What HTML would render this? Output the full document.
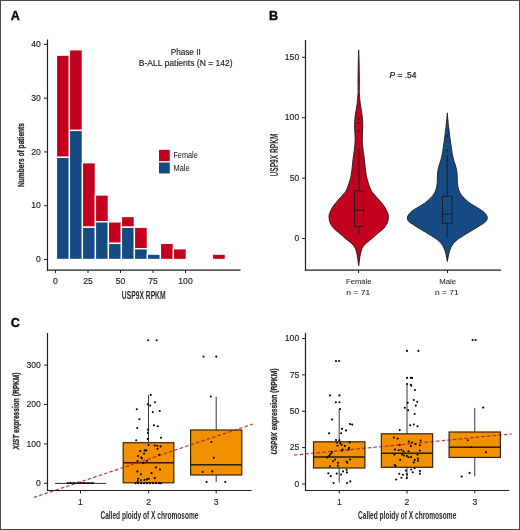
<!DOCTYPE html>
<html><head><meta charset="utf-8"><title>Figure</title>
<style>html,body{margin:0;padding:0;background:#fff;width:520px;height:530px;overflow:hidden}svg{display:block;will-change:transform}text{font-family:"Liberation Sans", sans-serif}</style>
</head><body>
<svg width="520" height="530" viewBox="0 0 520 530" font-family='"Liberation Sans", sans-serif'><rect x="0.5" y="0.5" width="519" height="529" fill="none" stroke="#4a4a4a" stroke-width="1"/>
<text x="10.80" y="19.70" font-size="12.6" text-anchor="start" fill="#000" font-weight="bold" font-style="normal" stroke="#000" stroke-width="0.35">A</text>
<rect x="56.40" y="55.14" width="13" height="102.18" fill="#c4001f" stroke="#fff" stroke-width="1.35"/>
<rect x="56.40" y="157.32" width="13" height="102.18" fill="#164a82" stroke="#fff" stroke-width="1.35"/>
<rect x="69.40" y="49.76" width="13" height="80.67" fill="#c4001f" stroke="#fff" stroke-width="1.35"/>
<rect x="69.40" y="130.43" width="13" height="129.07" fill="#164a82" stroke="#fff" stroke-width="1.35"/>
<rect x="82.40" y="162.70" width="13" height="64.54" fill="#c4001f" stroke="#fff" stroke-width="1.35"/>
<rect x="82.40" y="227.23" width="13" height="32.27" fill="#164a82" stroke="#fff" stroke-width="1.35"/>
<rect x="95.40" y="194.96" width="13" height="26.89" fill="#c4001f" stroke="#fff" stroke-width="1.35"/>
<rect x="95.40" y="221.85" width="13" height="37.65" fill="#164a82" stroke="#fff" stroke-width="1.35"/>
<rect x="108.40" y="221.85" width="13" height="21.51" fill="#c4001f" stroke="#fff" stroke-width="1.35"/>
<rect x="108.40" y="243.37" width="13" height="16.13" fill="#164a82" stroke="#fff" stroke-width="1.35"/>
<rect x="121.40" y="216.48" width="13" height="10.76" fill="#c4001f" stroke="#fff" stroke-width="1.35"/>
<rect x="121.40" y="227.23" width="13" height="32.27" fill="#164a82" stroke="#fff" stroke-width="1.35"/>
<rect x="134.40" y="227.23" width="13" height="21.51" fill="#c4001f" stroke="#fff" stroke-width="1.35"/>
<rect x="134.40" y="248.74" width="13" height="10.76" fill="#164a82" stroke="#fff" stroke-width="1.35"/>
<rect x="147.40" y="254.12" width="13" height="5.38" fill="#164a82" stroke="#fff" stroke-width="1.35"/>
<rect x="160.40" y="243.37" width="13" height="16.13" fill="#c4001f" stroke="#fff" stroke-width="1.35"/>
<rect x="173.40" y="248.74" width="13" height="10.76" fill="#c4001f" stroke="#fff" stroke-width="1.35"/>
<rect x="212.40" y="254.12" width="13" height="5.38" fill="#c4001f" stroke="#fff" stroke-width="1.35"/>
<line x1="47.50" y1="39.50" x2="47.50" y2="270.80" stroke="#1e1e1e" stroke-width="1.2" />
<line x1="47.00" y1="270.20" x2="240.50" y2="270.20" stroke="#1e1e1e" stroke-width="1.2" />
<line x1="44.00" y1="259.50" x2="47.50" y2="259.50" stroke="#1e1e1e" stroke-width="1" />
<text x="40.80" y="262.25" font-size="8.6" text-anchor="end" fill="#222" font-weight="normal" font-style="normal" stroke="#222" stroke-width="0.15">0</text>
<line x1="44.00" y1="205.72" x2="47.50" y2="205.72" stroke="#1e1e1e" stroke-width="1" />
<text x="40.80" y="208.47" font-size="8.6" text-anchor="end" fill="#222" font-weight="normal" font-style="normal" stroke="#222" stroke-width="0.15">10</text>
<line x1="44.00" y1="151.94" x2="47.50" y2="151.94" stroke="#1e1e1e" stroke-width="1" />
<text x="40.80" y="154.69" font-size="8.6" text-anchor="end" fill="#222" font-weight="normal" font-style="normal" stroke="#222" stroke-width="0.15">20</text>
<line x1="44.00" y1="98.16" x2="47.50" y2="98.16" stroke="#1e1e1e" stroke-width="1" />
<text x="40.80" y="100.91" font-size="8.6" text-anchor="end" fill="#222" font-weight="normal" font-style="normal" stroke="#222" stroke-width="0.15">30</text>
<line x1="44.00" y1="44.38" x2="47.50" y2="44.38" stroke="#1e1e1e" stroke-width="1" />
<text x="40.80" y="47.13" font-size="8.6" text-anchor="end" fill="#222" font-weight="normal" font-style="normal" stroke="#222" stroke-width="0.15">40</text>
<line x1="55.50" y1="270.00" x2="55.50" y2="273.00" stroke="#1e1e1e" stroke-width="1" />
<text x="55.50" y="284.00" font-size="8.6" text-anchor="middle" fill="#222" font-weight="normal" font-style="normal" stroke="#222" stroke-width="0.15">0</text>
<line x1="88.00" y1="270.00" x2="88.00" y2="273.00" stroke="#1e1e1e" stroke-width="1" />
<text x="88.00" y="284.00" font-size="8.6" text-anchor="middle" fill="#222" font-weight="normal" font-style="normal" stroke="#222" stroke-width="0.15">25</text>
<line x1="120.50" y1="270.00" x2="120.50" y2="273.00" stroke="#1e1e1e" stroke-width="1" />
<text x="120.50" y="284.00" font-size="8.6" text-anchor="middle" fill="#222" font-weight="normal" font-style="normal" stroke="#222" stroke-width="0.15">50</text>
<line x1="153.00" y1="270.00" x2="153.00" y2="273.00" stroke="#1e1e1e" stroke-width="1" />
<text x="153.00" y="284.00" font-size="8.6" text-anchor="middle" fill="#222" font-weight="normal" font-style="normal" stroke="#222" stroke-width="0.15">75</text>
<line x1="185.50" y1="270.00" x2="185.50" y2="273.00" stroke="#1e1e1e" stroke-width="1" />
<text x="185.50" y="284.00" font-size="8.6" text-anchor="middle" fill="#222" font-weight="normal" font-style="normal" stroke="#222" stroke-width="0.15">100</text>
<text x="185.70" y="54.90" font-size="8.2" text-anchor="middle" fill="#222" font-weight="normal" font-style="normal" stroke="#222" stroke-width="0.15">Phase II</text>
<text x="185.70" y="65.80" font-size="8.2" text-anchor="middle" fill="#222" font-weight="normal" font-style="normal" textLength="94" lengthAdjust="spacingAndGlyphs" stroke="#222" stroke-width="0.15">B-ALL patients (N = 142)</text>
<rect x="159" y="149.8" width="10.8" height="11.3" fill="#c4001f"/>
<rect x="159" y="162.5" width="10.8" height="11" fill="#164a82"/>
<text x="173.40" y="158.30" font-size="8.2" text-anchor="start" fill="#222" font-weight="normal" font-style="normal" textLength="24.3" lengthAdjust="spacingAndGlyphs" stroke="#222" stroke-width="0.05">Female</text>
<text x="173.50" y="170.80" font-size="8.2" text-anchor="start" fill="#222" font-weight="normal" font-style="normal" textLength="16" lengthAdjust="spacingAndGlyphs" stroke="#222" stroke-width="0.05">Male</text>
<text x="143.70" y="298.80" font-size="10.2" text-anchor="middle" fill="#2a2a2a" font-weight="bold" font-style="normal" textLength="43.8" lengthAdjust="spacingAndGlyphs" >USP9X RPKM</text>
<g transform="translate(23.60,155.00) rotate(-90)"><text x="0" y="0" font-size="9.6" font-weight="bold" text-anchor="middle" fill="#2a2a2a" stroke="#2a2a2a" stroke-width="0.3" textLength="64" lengthAdjust="spacingAndGlyphs">Numbers of patients</text></g>
<text x="268.90" y="19.80" font-size="12.6" text-anchor="start" fill="#000" font-weight="bold" font-style="normal" stroke="#000" stroke-width="0.35">B</text>
<line x1="305.50" y1="40.00" x2="305.50" y2="270.80" stroke="#1e1e1e" stroke-width="1.2" />
<line x1="304.90" y1="270.20" x2="501.00" y2="270.20" stroke="#1e1e1e" stroke-width="1.2" />
<line x1="302.00" y1="238.60" x2="305.50" y2="238.60" stroke="#1e1e1e" stroke-width="1" />
<text x="299.20" y="241.35" font-size="8.6" text-anchor="end" fill="#222" font-weight="normal" font-style="normal" stroke="#222" stroke-width="0.15">0</text>
<line x1="302.00" y1="178.16" x2="305.50" y2="178.16" stroke="#1e1e1e" stroke-width="1" />
<text x="299.20" y="180.91" font-size="8.6" text-anchor="end" fill="#222" font-weight="normal" font-style="normal" stroke="#222" stroke-width="0.15">50</text>
<line x1="302.00" y1="117.73" x2="305.50" y2="117.73" stroke="#1e1e1e" stroke-width="1" />
<text x="299.20" y="120.48" font-size="8.6" text-anchor="end" fill="#222" font-weight="normal" font-style="normal" stroke="#222" stroke-width="0.15">100</text>
<line x1="302.00" y1="57.29" x2="305.50" y2="57.29" stroke="#1e1e1e" stroke-width="1" />
<text x="299.20" y="60.04" font-size="8.6" text-anchor="end" fill="#222" font-weight="normal" font-style="normal" stroke="#222" stroke-width="0.15">150</text>
<line x1="358.50" y1="270.00" x2="358.50" y2="273.00" stroke="#1e1e1e" stroke-width="1" />
<line x1="447.50" y1="270.00" x2="447.50" y2="273.00" stroke="#1e1e1e" stroke-width="1" />
<text x="358.80" y="284.20" font-size="7.9" text-anchor="middle" fill="#222" font-weight="normal" font-style="normal" textLength="25.4" lengthAdjust="spacingAndGlyphs" stroke="#222" stroke-width="0.05">Female</text>
<text x="358.20" y="294.70" font-size="7.9" text-anchor="middle" fill="#222" font-weight="normal" font-style="normal" textLength="24" lengthAdjust="spacingAndGlyphs" stroke="#222" stroke-width="0.05">n = 71</text>
<text x="447.60" y="284.20" font-size="7.9" text-anchor="middle" fill="#222" font-weight="normal" font-style="normal" textLength="16.8" lengthAdjust="spacingAndGlyphs" stroke="#222" stroke-width="0.05">Male</text>
<text x="446.90" y="294.70" font-size="7.9" text-anchor="middle" fill="#222" font-weight="normal" font-style="normal" textLength="24" lengthAdjust="spacingAndGlyphs" stroke="#222" stroke-width="0.05">n = 71</text>
<g transform="translate(278.4,155) rotate(-90)"><text x="0" y="0" font-size="10.2" font-weight="bold" text-anchor="middle" fill="#2a2a2a" textLength="43" lengthAdjust="spacingAndGlyphs">USP9X RPKM</text></g>
<text x="389.6" y="77.8" font-size="8.4" fill="#111" stroke="#111" stroke-width="0.2"><tspan font-style="italic">P</tspan> = .54</text>
<path d="M358.70,50.20 C358.76,51.83 358.97,56.70 359.05,60.00 C359.13,63.30 359.14,66.50 359.20,70.00 C359.26,73.50 359.38,77.67 359.40,81.00 C359.42,84.33 359.28,87.67 359.30,90.00 C359.32,92.33 359.37,92.93 359.50,95.00 C359.63,97.07 359.82,99.95 360.10,102.40 C360.38,104.85 360.83,107.27 361.20,109.70 C361.57,112.13 362.03,114.33 362.30,117.00 C362.57,119.67 362.78,122.82 362.80,125.70 C362.82,128.58 362.48,131.65 362.40,134.30 C362.32,136.95 362.18,138.95 362.30,141.60 C362.42,144.25 362.77,147.33 363.10,150.20 C363.43,153.07 363.98,156.25 364.30,158.80 C364.62,161.35 364.68,162.80 365.00,165.50 C365.32,168.20 365.70,172.25 366.20,175.00 C366.70,177.75 367.22,179.50 368.00,182.00 C368.78,184.50 369.78,187.83 370.90,190.00 C372.02,192.17 373.18,193.17 374.70,195.00 C376.22,196.83 378.33,199.00 380.00,201.00 C381.67,203.00 383.38,204.90 384.70,207.00 C386.02,209.10 387.30,211.77 387.90,213.60 C388.50,215.43 388.42,216.43 388.30,218.00 C388.18,219.57 387.92,221.33 387.20,223.00 C386.48,224.67 385.62,226.23 384.00,228.00 C382.38,229.77 379.22,232.10 377.50,233.60 C375.78,235.10 375.03,235.87 373.70,237.00 C372.37,238.13 370.90,239.23 369.50,240.40 C368.10,241.57 366.40,242.90 365.30,244.00 C364.20,245.10 363.53,246.00 362.90,247.00 C362.27,248.00 361.92,248.83 361.50,250.00 C361.08,251.17 360.70,252.67 360.40,254.00 C360.10,255.33 359.90,256.67 359.70,258.00 C359.50,259.33 359.37,260.70 359.20,262.00 C359.03,263.30 358.78,265.17 358.70,265.80 L358.70,265.80 C358.62,265.17 358.37,263.30 358.20,262.00 C358.03,260.70 357.90,259.33 357.70,258.00 C357.50,256.67 357.30,255.33 357.00,254.00 C356.70,252.67 356.32,251.17 355.90,250.00 C355.48,248.83 355.13,248.00 354.50,247.00 C353.87,246.00 353.20,245.10 352.10,244.00 C351.00,242.90 349.30,241.57 347.90,240.40 C346.50,239.23 345.03,238.13 343.70,237.00 C342.37,235.87 341.62,235.10 339.90,233.60 C338.18,232.10 335.02,229.77 333.40,228.00 C331.78,226.23 330.92,224.67 330.20,223.00 C329.48,221.33 329.22,219.57 329.10,218.00 C328.98,216.43 328.90,215.43 329.50,213.60 C330.10,211.77 331.38,209.10 332.70,207.00 C334.02,204.90 335.73,203.00 337.40,201.00 C339.07,199.00 341.18,196.83 342.70,195.00 C344.22,193.17 345.38,192.17 346.50,190.00 C347.62,187.83 348.62,184.50 349.40,182.00 C350.18,179.50 350.70,177.75 351.20,175.00 C351.70,172.25 352.08,168.20 352.40,165.50 C352.72,162.80 352.78,161.35 353.10,158.80 C353.42,156.25 353.97,153.07 354.30,150.20 C354.63,147.33 354.98,144.25 355.10,141.60 C355.22,138.95 355.08,136.95 355.00,134.30 C354.92,131.65 354.58,128.58 354.60,125.70 C354.62,122.82 354.83,119.67 355.10,117.00 C355.37,114.33 355.83,112.13 356.20,109.70 C356.57,107.27 357.02,104.85 357.30,102.40 C357.58,99.95 357.77,97.07 357.90,95.00 C358.03,92.93 358.08,92.33 358.10,90.00 C358.12,87.67 357.98,84.33 358.00,81.00 C358.02,77.67 358.14,73.50 358.20,70.00 C358.26,66.50 358.27,63.30 358.35,60.00 C358.43,56.70 358.64,51.83 358.70,50.20 Z" fill="#c4001f" stroke="#1a1a1a" stroke-width="0.9" stroke-linejoin="round"/>
<path d="M447.30,112.90 C447.40,114.08 447.67,117.55 447.90,120.00 C448.13,122.45 448.33,124.43 448.70,127.60 C449.07,130.77 449.60,135.27 450.10,139.00 C450.60,142.73 451.30,147.33 451.70,150.00 C452.10,152.67 452.13,153.20 452.50,155.00 C452.87,156.80 453.35,158.88 453.90,160.80 C454.45,162.72 455.30,164.58 455.80,166.50 C456.30,168.42 456.67,170.38 456.90,172.30 C457.13,174.22 457.10,176.08 457.20,178.00 C457.30,179.92 457.27,181.87 457.50,183.80 C457.73,185.73 457.90,187.67 458.60,189.60 C459.30,191.53 460.22,193.47 461.70,195.40 C463.18,197.33 465.65,199.60 467.50,201.20 C469.35,202.80 470.42,203.45 472.80,205.00 C475.18,206.55 479.62,208.92 481.80,210.50 C483.98,212.08 484.98,213.25 485.90,214.50 C486.82,215.75 487.32,216.83 487.30,218.00 C487.28,219.17 486.88,220.33 485.80,221.50 C484.72,222.67 482.65,223.78 480.80,225.00 C478.95,226.22 477.23,227.25 474.70,228.80 C472.17,230.35 468.50,232.48 465.60,234.30 C462.70,236.12 459.55,237.88 457.30,239.70 C455.05,241.52 453.38,243.37 452.10,245.20 C450.82,247.03 450.23,248.90 449.60,250.70 C448.97,252.50 448.68,254.20 448.30,256.00 C447.92,257.80 447.47,260.58 447.30,261.50 L447.30,261.50 C447.13,260.58 446.68,257.80 446.30,256.00 C445.92,254.20 445.63,252.50 445.00,250.70 C444.37,248.90 443.78,247.03 442.50,245.20 C441.22,243.37 439.55,241.52 437.30,239.70 C435.05,237.88 431.90,236.12 429.00,234.30 C426.10,232.48 422.43,230.35 419.90,228.80 C417.37,227.25 415.65,226.22 413.80,225.00 C411.95,223.78 409.88,222.67 408.80,221.50 C407.72,220.33 407.32,219.17 407.30,218.00 C407.28,216.83 407.78,215.75 408.70,214.50 C409.62,213.25 410.62,212.08 412.80,210.50 C414.98,208.92 419.42,206.55 421.80,205.00 C424.18,203.45 425.25,202.80 427.10,201.20 C428.95,199.60 431.42,197.33 432.90,195.40 C434.38,193.47 435.30,191.53 436.00,189.60 C436.70,187.67 436.87,185.73 437.10,183.80 C437.33,181.87 437.30,179.92 437.40,178.00 C437.50,176.08 437.47,174.22 437.70,172.30 C437.93,170.38 438.30,168.42 438.80,166.50 C439.30,164.58 440.15,162.72 440.70,160.80 C441.25,158.88 441.73,156.80 442.10,155.00 C442.47,153.20 442.50,152.67 442.90,150.00 C443.30,147.33 444.00,142.73 444.50,139.00 C445.00,135.27 445.53,130.77 445.90,127.60 C446.27,124.43 446.47,122.45 446.70,120.00 C446.93,117.55 447.20,114.08 447.30,112.90 Z" fill="#164a82" stroke="#1a1a1a" stroke-width="0.9" stroke-linejoin="round"/>
<line x1="358.90" y1="148.50" x2="358.90" y2="190.80" stroke="#1a1a1a" stroke-width="0.9" />
<line x1="358.90" y1="226.60" x2="358.90" y2="234.50" stroke="#1a1a1a" stroke-width="0.9" />
<rect x="354.40" y="190.80" width="9.00" height="35.80" fill="none" stroke="#1a1a1a" stroke-width="0.9"/>
<line x1="354.40" y1="210.40" x2="363.40" y2="210.40" stroke="#1a1a1a" stroke-width="0.9" />
<circle cx="358.7" cy="118.9" r="0.9" fill="#300"/>
<circle cx="358.7" cy="123.2" r="0.9" fill="#300"/>
<circle cx="358.7" cy="130.6" r="0.9" fill="#300"/>
<line x1="447.20" y1="155.00" x2="447.20" y2="196.30" stroke="#1a1a1a" stroke-width="0.9" />
<line x1="447.20" y1="223.30" x2="447.20" y2="237.50" stroke="#1a1a1a" stroke-width="0.9" />
<rect x="442.40" y="196.30" width="9.60" height="27.00" fill="none" stroke="#1a1a1a" stroke-width="0.9"/>
<line x1="442.40" y1="214.20" x2="452.00" y2="214.20" stroke="#1a1a1a" stroke-width="0.9" />
<circle cx="447.4" cy="136.1" r="0.85" fill="#001"/>
<circle cx="447.4" cy="150.3" r="0.85" fill="#001"/>
<text x="10.70" y="326.50" font-size="12.6" text-anchor="start" fill="#000" font-weight="bold" font-style="normal" stroke="#000" stroke-width="0.35">C</text>
<line x1="47.50" y1="333.00" x2="47.50" y2="491.10" stroke="#1e1e1e" stroke-width="1.2" />
<line x1="46.90" y1="490.50" x2="251.60" y2="490.50" stroke="#1e1e1e" stroke-width="1.2" />
<line x1="44.00" y1="483.30" x2="47.50" y2="483.30" stroke="#1e1e1e" stroke-width="1" />
<text x="40.80" y="486.05" font-size="8.6" text-anchor="end" fill="#222" font-weight="normal" font-style="normal" stroke="#222" stroke-width="0.15">0</text>
<line x1="44.00" y1="443.90" x2="47.50" y2="443.90" stroke="#1e1e1e" stroke-width="1" />
<text x="40.80" y="446.65" font-size="8.6" text-anchor="end" fill="#222" font-weight="normal" font-style="normal" stroke="#222" stroke-width="0.15">100</text>
<line x1="44.00" y1="404.50" x2="47.50" y2="404.50" stroke="#1e1e1e" stroke-width="1" />
<text x="40.80" y="407.25" font-size="8.6" text-anchor="end" fill="#222" font-weight="normal" font-style="normal" stroke="#222" stroke-width="0.15">200</text>
<line x1="44.00" y1="365.10" x2="47.50" y2="365.10" stroke="#1e1e1e" stroke-width="1" />
<text x="40.80" y="367.85" font-size="8.6" text-anchor="end" fill="#222" font-weight="normal" font-style="normal" stroke="#222" stroke-width="0.15">300</text>
<line x1="80.50" y1="490.50" x2="80.50" y2="493.50" stroke="#1e1e1e" stroke-width="1" />
<text x="80.50" y="505.00" font-size="8.6" text-anchor="middle" fill="#222" font-weight="normal" font-style="normal" stroke="#222" stroke-width="0.15">1</text>
<line x1="148.60" y1="490.50" x2="148.60" y2="493.50" stroke="#1e1e1e" stroke-width="1" />
<text x="148.60" y="505.00" font-size="8.6" text-anchor="middle" fill="#222" font-weight="normal" font-style="normal" stroke="#222" stroke-width="0.15">2</text>
<line x1="216.20" y1="490.50" x2="216.20" y2="493.50" stroke="#1e1e1e" stroke-width="1" />
<text x="216.20" y="505.00" font-size="8.6" text-anchor="middle" fill="#222" font-weight="normal" font-style="normal" stroke="#222" stroke-width="0.15">3</text>
<text x="100.40" y="518.90" font-size="10.2" text-anchor="start" fill="#2a2a2a" font-weight="bold" font-style="normal" textLength="98.1" lengthAdjust="spacingAndGlyphs" >Called ploidy of X chromosome</text>
<g transform="translate(19,411) rotate(-90)"><text x="0" y="0" font-size="9.8" font-weight="bold" text-anchor="middle" fill="#2a2a2a" stroke="#2a2a2a" stroke-width="0.3" textLength="77" lengthAdjust="spacingAndGlyphs"><tspan font-style="italic">XIST</tspan> expression (RPKM)</text></g>
<line x1="55.00" y1="483.40" x2="106.25" y2="483.40" stroke="#1a1a1a" stroke-width="0.9" />
<line x1="68.00" y1="483.20" x2="94.40" y2="483.20" stroke="#1a1a1a" stroke-width="1.5" />
<circle cx="67.5" cy="483.0" r="0.9" fill="#000"/>
<circle cx="70.5" cy="482.6" r="0.9" fill="#000"/>
<circle cx="74.0" cy="482.8" r="0.9" fill="#000"/>
<circle cx="78.0" cy="482.4" r="0.9" fill="#000"/>
<circle cx="81.0" cy="482.6" r="0.9" fill="#000"/>
<circle cx="84.0" cy="483.0" r="0.9" fill="#000"/>
<circle cx="88.0" cy="483.1" r="0.9" fill="#000"/>
<circle cx="92.0" cy="483.2" r="0.9" fill="#000"/>
<line x1="148.50" y1="394.90" x2="148.50" y2="442.70" stroke="#383838" stroke-width="1.0" />
<line x1="148.50" y1="482.80" x2="148.50" y2="483.30" stroke="#383838" stroke-width="1.0" />
<rect x="123.15" y="442.70" width="50.70" height="40.10" fill="#f29100" stroke="#2e1d05" stroke-width="1.15"/>
<line x1="123.15" y1="462.70" x2="173.85" y2="462.70" stroke="#2e1d05" stroke-width="1.4949999999999999" />
<line x1="216.20" y1="396.80" x2="216.20" y2="430.00" stroke="#383838" stroke-width="1.0" />
<line x1="216.20" y1="475.00" x2="216.20" y2="482.00" stroke="#383838" stroke-width="1.0" />
<rect x="190.60" y="430.00" width="51.20" height="45.00" fill="#f29100" stroke="#2e1d05" stroke-width="1.15"/>
<line x1="190.60" y1="464.70" x2="241.80" y2="464.70" stroke="#2e1d05" stroke-width="1.4949999999999999" />
<line x1="33.75" y1="497.5" x2="253" y2="424" stroke="#a0102c" stroke-width="1.2" stroke-dasharray="3.6,2.1" stroke-opacity="0.8"/>
<circle cx="148.2" cy="340.2" r="1.05" fill="#000"/>
<circle cx="156.7" cy="340.2" r="1.05" fill="#000"/>
<circle cx="150.8" cy="394.9" r="1.05" fill="#000"/>
<circle cx="155.0" cy="402.2" r="1.05" fill="#000"/>
<circle cx="147.7" cy="404.2" r="1.05" fill="#000"/>
<circle cx="150.2" cy="405.6" r="1.05" fill="#000"/>
<circle cx="136.8" cy="409.3" r="1.05" fill="#000"/>
<circle cx="152.8" cy="412.0" r="1.05" fill="#000"/>
<circle cx="159.8" cy="411.0" r="1.05" fill="#000"/>
<circle cx="139.4" cy="419.2" r="1.05" fill="#000"/>
<circle cx="137.2" cy="428.0" r="1.05" fill="#000"/>
<circle cx="154.0" cy="425.2" r="1.05" fill="#000"/>
<circle cx="157.8" cy="426.3" r="1.05" fill="#000"/>
<circle cx="147.9" cy="429.6" r="1.05" fill="#000"/>
<circle cx="147.9" cy="432.7" r="1.05" fill="#000"/>
<circle cx="147.6" cy="439.0" r="1.05" fill="#000"/>
<circle cx="136.2" cy="440.2" r="1.05" fill="#000"/>
<circle cx="161.0" cy="437.7" r="1.05" fill="#000"/>
<circle cx="148.6" cy="445.0" r="1.05" fill="#000"/>
<circle cx="154.7" cy="445.5" r="1.05" fill="#000"/>
<circle cx="157.2" cy="445.7" r="1.05" fill="#000"/>
<circle cx="160.6" cy="446.4" r="1.05" fill="#000"/>
<circle cx="157.5" cy="448.7" r="1.05" fill="#000"/>
<circle cx="140.2" cy="451.1" r="1.05" fill="#000"/>
<circle cx="144.7" cy="450.4" r="1.05" fill="#000"/>
<circle cx="146.2" cy="450.4" r="1.05" fill="#000"/>
<circle cx="144.0" cy="453.5" r="1.05" fill="#000"/>
<circle cx="138.0" cy="456.0" r="1.05" fill="#000"/>
<circle cx="141.2" cy="457.5" r="1.05" fill="#000"/>
<circle cx="159.2" cy="454.7" r="1.05" fill="#000"/>
<circle cx="141.9" cy="458.2" r="1.05" fill="#000"/>
<circle cx="137.4" cy="461.0" r="1.05" fill="#000"/>
<circle cx="146.9" cy="461.0" r="1.05" fill="#000"/>
<circle cx="143.3" cy="463.2" r="1.05" fill="#000"/>
<circle cx="156.0" cy="467.4" r="1.05" fill="#000"/>
<circle cx="160.0" cy="469.5" r="1.05" fill="#000"/>
<circle cx="137.4" cy="471.4" r="1.05" fill="#000"/>
<circle cx="140.9" cy="474.2" r="1.05" fill="#000"/>
<circle cx="151.5" cy="473.1" r="1.05" fill="#000"/>
<circle cx="154.7" cy="478.0" r="1.05" fill="#000"/>
<circle cx="138.1" cy="478.7" r="1.05" fill="#000"/>
<circle cx="140.8" cy="480.2" r="1.05" fill="#000"/>
<circle cx="144.5" cy="479.9" r="1.05" fill="#000"/>
<circle cx="146.9" cy="479.4" r="1.05" fill="#000"/>
<circle cx="148.7" cy="478.7" r="1.05" fill="#000"/>
<circle cx="137.7" cy="480.9" r="1.05" fill="#000"/>
<circle cx="135.5" cy="483.3" r="1.05" fill="#000"/>
<circle cx="138.0" cy="483.3" r="1.05" fill="#000"/>
<circle cx="141.0" cy="483.3" r="1.05" fill="#000"/>
<circle cx="144.0" cy="483.3" r="1.05" fill="#000"/>
<circle cx="147.0" cy="483.3" r="1.05" fill="#000"/>
<circle cx="150.0" cy="483.3" r="1.05" fill="#000"/>
<circle cx="153.0" cy="483.3" r="1.05" fill="#000"/>
<circle cx="156.0" cy="483.3" r="1.05" fill="#000"/>
<circle cx="159.0" cy="483.3" r="1.05" fill="#000"/>
<circle cx="161.0" cy="483.3" r="1.05" fill="#000"/>
<circle cx="203.5" cy="356.6" r="1.05" fill="#000"/>
<circle cx="216.2" cy="356.6" r="1.05" fill="#000"/>
<circle cx="210.8" cy="396.5" r="1.05" fill="#000"/>
<circle cx="211.4" cy="442.0" r="1.05" fill="#000"/>
<circle cx="213.8" cy="457.8" r="1.05" fill="#000"/>
<circle cx="202.7" cy="472.0" r="1.05" fill="#000"/>
<circle cx="212.3" cy="471.4" r="1.05" fill="#000"/>
<circle cx="206.6" cy="482.0" r="1.05" fill="#000"/>
<circle cx="225.3" cy="482.0" r="1.05" fill="#000"/>
<line x1="305.50" y1="333.00" x2="305.50" y2="491.10" stroke="#1e1e1e" stroke-width="1.2" />
<line x1="304.90" y1="490.50" x2="509.30" y2="490.50" stroke="#1e1e1e" stroke-width="1.2" />
<line x1="302.00" y1="484.00" x2="305.50" y2="484.00" stroke="#1e1e1e" stroke-width="1" />
<text x="299.20" y="486.75" font-size="8.6" text-anchor="end" fill="#222" font-weight="normal" font-style="normal" stroke="#222" stroke-width="0.15">0</text>
<line x1="302.00" y1="447.62" x2="305.50" y2="447.62" stroke="#1e1e1e" stroke-width="1" />
<text x="299.20" y="450.38" font-size="8.6" text-anchor="end" fill="#222" font-weight="normal" font-style="normal" stroke="#222" stroke-width="0.15">25</text>
<line x1="302.00" y1="411.25" x2="305.50" y2="411.25" stroke="#1e1e1e" stroke-width="1" />
<text x="299.20" y="414.00" font-size="8.6" text-anchor="end" fill="#222" font-weight="normal" font-style="normal" stroke="#222" stroke-width="0.15">50</text>
<line x1="302.00" y1="374.88" x2="305.50" y2="374.88" stroke="#1e1e1e" stroke-width="1" />
<text x="299.20" y="377.62" font-size="8.6" text-anchor="end" fill="#222" font-weight="normal" font-style="normal" stroke="#222" stroke-width="0.15">75</text>
<line x1="302.00" y1="338.50" x2="305.50" y2="338.50" stroke="#1e1e1e" stroke-width="1" />
<text x="299.20" y="341.25" font-size="8.6" text-anchor="end" fill="#222" font-weight="normal" font-style="normal" stroke="#222" stroke-width="0.15">100</text>
<line x1="339.30" y1="490.50" x2="339.30" y2="493.50" stroke="#1e1e1e" stroke-width="1" />
<text x="339.30" y="505.00" font-size="8.6" text-anchor="middle" fill="#222" font-weight="normal" font-style="normal" stroke="#222" stroke-width="0.15">1</text>
<line x1="407.00" y1="490.50" x2="407.00" y2="493.50" stroke="#1e1e1e" stroke-width="1" />
<text x="407.00" y="505.00" font-size="8.6" text-anchor="middle" fill="#222" font-weight="normal" font-style="normal" stroke="#222" stroke-width="0.15">2</text>
<line x1="474.80" y1="490.50" x2="474.80" y2="493.50" stroke="#1e1e1e" stroke-width="1" />
<text x="474.80" y="505.00" font-size="8.6" text-anchor="middle" fill="#222" font-weight="normal" font-style="normal" stroke="#222" stroke-width="0.15">3</text>
<text x="358.00" y="518.90" font-size="10.2" text-anchor="start" fill="#2a2a2a" font-weight="bold" font-style="normal" textLength="98.3" lengthAdjust="spacingAndGlyphs" >Called ploidy of X chromosome</text>
<g transform="translate(277.2,411.4) rotate(-90)"><text x="0" y="0" font-size="9.8" font-weight="bold" text-anchor="middle" fill="#2a2a2a" stroke="#2a2a2a" stroke-width="0.3" textLength="86" lengthAdjust="spacingAndGlyphs"><tspan font-style="italic">USP9X</tspan> expression (RPKM)</text></g>
<line x1="339.20" y1="409.00" x2="339.20" y2="441.80" stroke="#383838" stroke-width="1.0" />
<line x1="339.20" y1="468.00" x2="339.20" y2="482.60" stroke="#383838" stroke-width="1.0" />
<rect x="313.50" y="441.80" width="51.40" height="26.20" fill="#f29100" stroke="#2e1d05" stroke-width="1.15"/>
<line x1="313.50" y1="456.90" x2="364.90" y2="456.90" stroke="#2e1d05" stroke-width="1.4949999999999999" />
<line x1="407.00" y1="384.00" x2="407.00" y2="433.80" stroke="#383838" stroke-width="1.0" />
<line x1="407.00" y1="467.30" x2="407.00" y2="478.50" stroke="#383838" stroke-width="1.0" />
<rect x="381.35" y="433.80" width="51.30" height="33.50" fill="#f29100" stroke="#2e1d05" stroke-width="1.15"/>
<line x1="381.35" y1="453.30" x2="432.65" y2="453.30" stroke="#2e1d05" stroke-width="1.4949999999999999" />
<line x1="474.75" y1="407.90" x2="474.75" y2="432.00" stroke="#383838" stroke-width="1.0" />
<line x1="474.75" y1="457.40" x2="474.75" y2="476.40" stroke="#383838" stroke-width="1.0" />
<rect x="449.10" y="432.00" width="51.30" height="25.40" fill="#f29100" stroke="#2e1d05" stroke-width="1.15"/>
<line x1="449.10" y1="447.20" x2="500.40" y2="447.20" stroke="#2e1d05" stroke-width="1.4949999999999999" />
<line x1="294" y1="455.1" x2="511.7" y2="433.9" stroke="#a0102c" stroke-width="1.2" stroke-dasharray="3.6,2.1" stroke-opacity="0.8"/>
<circle cx="336.0" cy="361.0" r="1.05" fill="#000"/>
<circle cx="339.1" cy="361.0" r="1.05" fill="#000"/>
<circle cx="329.9" cy="395.4" r="1.05" fill="#000"/>
<circle cx="339.4" cy="395.4" r="1.05" fill="#000"/>
<circle cx="335.9" cy="402.2" r="1.05" fill="#000"/>
<circle cx="339.4" cy="402.2" r="1.05" fill="#000"/>
<circle cx="340.0" cy="409.0" r="1.05" fill="#000"/>
<circle cx="332.1" cy="419.6" r="1.05" fill="#000"/>
<circle cx="350.0" cy="424.1" r="1.05" fill="#000"/>
<circle cx="352.2" cy="424.6" r="1.05" fill="#000"/>
<circle cx="342.0" cy="428.9" r="1.05" fill="#000"/>
<circle cx="346.0" cy="430.4" r="1.05" fill="#000"/>
<circle cx="329.1" cy="433.2" r="1.05" fill="#000"/>
<circle cx="341.2" cy="433.2" r="1.05" fill="#000"/>
<circle cx="336.0" cy="440.0" r="1.05" fill="#000"/>
<circle cx="339.4" cy="440.3" r="1.05" fill="#000"/>
<circle cx="337.2" cy="442.7" r="1.05" fill="#000"/>
<circle cx="340.3" cy="443.3" r="1.05" fill="#000"/>
<circle cx="341.5" cy="444.8" r="1.05" fill="#000"/>
<circle cx="337.5" cy="445.7" r="1.05" fill="#000"/>
<circle cx="344.8" cy="445.9" r="1.05" fill="#000"/>
<circle cx="349.7" cy="442.4" r="1.05" fill="#000"/>
<circle cx="342.5" cy="449.6" r="1.05" fill="#000"/>
<circle cx="342.1" cy="450.7" r="1.05" fill="#000"/>
<circle cx="348.6" cy="449.4" r="1.05" fill="#000"/>
<circle cx="349.1" cy="447.9" r="1.05" fill="#000"/>
<circle cx="331.8" cy="451.8" r="1.05" fill="#000"/>
<circle cx="331.5" cy="453.2" r="1.05" fill="#000"/>
<circle cx="330.1" cy="454.6" r="1.05" fill="#000"/>
<circle cx="329.0" cy="456.0" r="1.05" fill="#000"/>
<circle cx="327.2" cy="457.5" r="1.05" fill="#000"/>
<circle cx="335.0" cy="459.6" r="1.05" fill="#000"/>
<circle cx="333.0" cy="461.2" r="1.05" fill="#000"/>
<circle cx="346.6" cy="461.5" r="1.05" fill="#000"/>
<circle cx="350.0" cy="459.6" r="1.05" fill="#000"/>
<circle cx="347.3" cy="462.8" r="1.05" fill="#000"/>
<circle cx="338.1" cy="462.7" r="1.05" fill="#000"/>
<circle cx="337.9" cy="465.6" r="1.05" fill="#000"/>
<circle cx="329.9" cy="466.3" r="1.05" fill="#000"/>
<circle cx="328.3" cy="473.2" r="1.05" fill="#000"/>
<circle cx="330.8" cy="476.1" r="1.05" fill="#000"/>
<circle cx="336.7" cy="473.6" r="1.05" fill="#000"/>
<circle cx="341.1" cy="474.6" r="1.05" fill="#000"/>
<circle cx="343.0" cy="471.4" r="1.05" fill="#000"/>
<circle cx="346.6" cy="469.7" r="1.05" fill="#000"/>
<circle cx="346.9" cy="472.4" r="1.05" fill="#000"/>
<circle cx="333.6" cy="483.1" r="1.05" fill="#000"/>
<circle cx="347.1" cy="483.1" r="1.05" fill="#000"/>
<circle cx="350.3" cy="481.4" r="1.05" fill="#000"/>
<circle cx="407.0" cy="350.9" r="1.05" fill="#000"/>
<circle cx="418.4" cy="350.9" r="1.05" fill="#000"/>
<circle cx="407.0" cy="377.9" r="1.05" fill="#000"/>
<circle cx="410.8" cy="377.9" r="1.05" fill="#000"/>
<circle cx="412.1" cy="377.9" r="1.05" fill="#000"/>
<circle cx="407.0" cy="384.0" r="1.05" fill="#000"/>
<circle cx="410.8" cy="384.7" r="1.05" fill="#000"/>
<circle cx="411.3" cy="385.7" r="1.05" fill="#000"/>
<circle cx="415.0" cy="390.0" r="1.05" fill="#000"/>
<circle cx="413.8" cy="400.0" r="1.05" fill="#000"/>
<circle cx="417.2" cy="401.8" r="1.05" fill="#000"/>
<circle cx="407.7" cy="402.7" r="1.05" fill="#000"/>
<circle cx="415.8" cy="405.6" r="1.05" fill="#000"/>
<circle cx="404.8" cy="407.8" r="1.05" fill="#000"/>
<circle cx="408.2" cy="410.3" r="1.05" fill="#000"/>
<circle cx="414.7" cy="414.0" r="1.05" fill="#000"/>
<circle cx="410.2" cy="425.3" r="1.05" fill="#000"/>
<circle cx="413.8" cy="424.5" r="1.05" fill="#000"/>
<circle cx="417.5" cy="426.3" r="1.05" fill="#000"/>
<circle cx="399.7" cy="430.1" r="1.05" fill="#000"/>
<circle cx="393.9" cy="437.5" r="1.05" fill="#000"/>
<circle cx="397.6" cy="438.6" r="1.05" fill="#000"/>
<circle cx="408.8" cy="441.6" r="1.05" fill="#000"/>
<circle cx="411.9" cy="442.6" r="1.05" fill="#000"/>
<circle cx="420.6" cy="440.6" r="1.05" fill="#000"/>
<circle cx="415.5" cy="444.3" r="1.05" fill="#000"/>
<circle cx="419.9" cy="445.3" r="1.05" fill="#000"/>
<circle cx="399.7" cy="444.9" r="1.05" fill="#000"/>
<circle cx="410.9" cy="446.1" r="1.05" fill="#000"/>
<circle cx="394.9" cy="449.6" r="1.05" fill="#000"/>
<circle cx="398.7" cy="450.2" r="1.05" fill="#000"/>
<circle cx="401.4" cy="449.8" r="1.05" fill="#000"/>
<circle cx="403.5" cy="451.4" r="1.05" fill="#000"/>
<circle cx="408.5" cy="451.3" r="1.05" fill="#000"/>
<circle cx="419.9" cy="450.6" r="1.05" fill="#000"/>
<circle cx="394.4" cy="454.6" r="1.05" fill="#000"/>
<circle cx="402.2" cy="454.4" r="1.05" fill="#000"/>
<circle cx="403.9" cy="455.5" r="1.05" fill="#000"/>
<circle cx="406.8" cy="455.9" r="1.05" fill="#000"/>
<circle cx="408.5" cy="457.2" r="1.05" fill="#000"/>
<circle cx="411.1" cy="457.1" r="1.05" fill="#000"/>
<circle cx="417.5" cy="454.8" r="1.05" fill="#000"/>
<circle cx="417.9" cy="458.6" r="1.05" fill="#000"/>
<circle cx="400.1" cy="459.7" r="1.05" fill="#000"/>
<circle cx="414.7" cy="459.9" r="1.05" fill="#000"/>
<circle cx="418.1" cy="460.8" r="1.05" fill="#000"/>
<circle cx="413.8" cy="462.4" r="1.05" fill="#000"/>
<circle cx="394.8" cy="465.0" r="1.05" fill="#000"/>
<circle cx="395.5" cy="466.0" r="1.05" fill="#000"/>
<circle cx="405.8" cy="470.6" r="1.05" fill="#000"/>
<circle cx="411.2" cy="469.5" r="1.05" fill="#000"/>
<circle cx="414.5" cy="468.3" r="1.05" fill="#000"/>
<circle cx="412.8" cy="472.2" r="1.05" fill="#000"/>
<circle cx="419.9" cy="471.1" r="1.05" fill="#000"/>
<circle cx="419.9" cy="473.7" r="1.05" fill="#000"/>
<circle cx="399.3" cy="473.8" r="1.05" fill="#000"/>
<circle cx="402.9" cy="474.8" r="1.05" fill="#000"/>
<circle cx="406.8" cy="474.4" r="1.05" fill="#000"/>
<circle cx="401.4" cy="477.7" r="1.05" fill="#000"/>
<circle cx="396.2" cy="479.5" r="1.05" fill="#000"/>
<circle cx="406.8" cy="478.1" r="1.05" fill="#000"/>
<circle cx="472.6" cy="340.0" r="1.05" fill="#000"/>
<circle cx="475.6" cy="340.0" r="1.05" fill="#000"/>
<circle cx="483.2" cy="407.6" r="1.05" fill="#000"/>
<circle cx="467.8" cy="440.2" r="1.05" fill="#000"/>
<circle cx="470.8" cy="447.2" r="1.05" fill="#000"/>
<circle cx="485.9" cy="452.3" r="1.05" fill="#000"/>
<circle cx="461.7" cy="476.5" r="1.05" fill="#000"/>
<circle cx="469.6" cy="472.9" r="1.05" fill="#000"/></svg>
</body></html>
